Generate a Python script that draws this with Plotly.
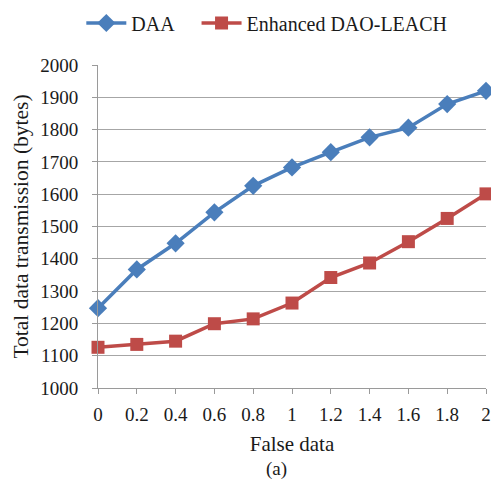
import plotly.graph_objects as go

x_vals = [0, 0.2, 0.4, 0.6, 0.8, 1, 1.2, 1.4, 1.6, 1.8, 2]
x_labels = ["0", "0.2", "0.4", "0.6", "0.8", "1", "1.2", "1.4", "1.6", "1.8", "2"]
daa = [1247, 1367, 1448, 1544, 1626, 1683, 1730, 1776, 1806, 1879, 1920]
dao_leach = [1126, 1135, 1145, 1199, 1214, 1263, 1342, 1387, 1453, 1525, 1601]
y_ticks = [1000, 1100, 1200, 1300, 1400, 1500, 1600, 1700, 1800, 1900, 2000]

FONT = "Liberation Serif"

fig = go.Figure()
fig.add_trace(go.Scatter(
    x=x_vals, y=daa, name="DAA", mode="lines+markers",
    line=dict(color="#4A7EBB", width=3.5),
    marker=dict(symbol="diamond", size=14, color="#4A7EBB"),
    cliponaxis=False, legend="legend",
))
fig.add_trace(go.Scatter(
    x=x_vals, y=dao_leach, name="Enhanced DAO-LEACH", mode="lines+markers",
    line=dict(color="#BE4B48", width=3.5),
    marker=dict(symbol="square", size=13, color="#BE4B48"),
    cliponaxis=False, legend="legend2",
))

legend_common = dict(orientation="h", y=1.13, xanchor="left", yanchor="middle",
                     font=dict(family=FONT, size=20, color="#1a1a1a"),
                     itemwidth=40, bgcolor="rgba(0,0,0,0)")

fig.update_layout(
    width=491, height=482,
    margin=dict(l=98, r=5, t=65, b=94, autoexpand=False),
    paper_bgcolor="white", plot_bgcolor="white",
    font=dict(family=FONT, size=18, color="#1a1a1a"),
    showlegend=True,
    legend=dict(x=-0.043, **legend_common),
    legend2=dict(x=0.254, **legend_common),
    xaxis=dict(
        range=[0, 2], tickmode="array", tickvals=x_vals, ticktext=x_labels,
        showgrid=False, showline=True, linecolor="#9a9a9a", linewidth=1,
        ticks="outside", ticklen=5, tickcolor="#9a9a9a",
        tickfont=dict(family=FONT, size=19), ticklabelstandoff=4,
        zeroline=False,
        title=dict(text="False data", font=dict(family=FONT, size=21), standoff=12),
    ),
    yaxis=dict(
        range=[1000, 2000], tickmode="array", tickvals=y_ticks,
        showgrid=True, gridcolor="#a6a6a6", gridwidth=1,
        showline=True, linecolor="#9a9a9a", linewidth=1,
        ticks="outside", ticklen=5, tickcolor="#9a9a9a",
        tickfont=dict(family=FONT, size=19), ticklabelstandoff=10,
        zeroline=False,
        title=dict(text="Total data transmission (bytes)", font=dict(family=FONT, size=21.5), standoff=5),
    ),
    annotations=[dict(text="(a)", x=0.459, y=-0.252, xref="paper", yref="paper",
                      showarrow=False, font=dict(family=FONT, size=19), xanchor="center", yanchor="middle")],
)

fig.write_html("out.html", config={"displayModeBar": False},
               post_script="document.body.style.margin='0';document.body.style.overflow='hidden';")
